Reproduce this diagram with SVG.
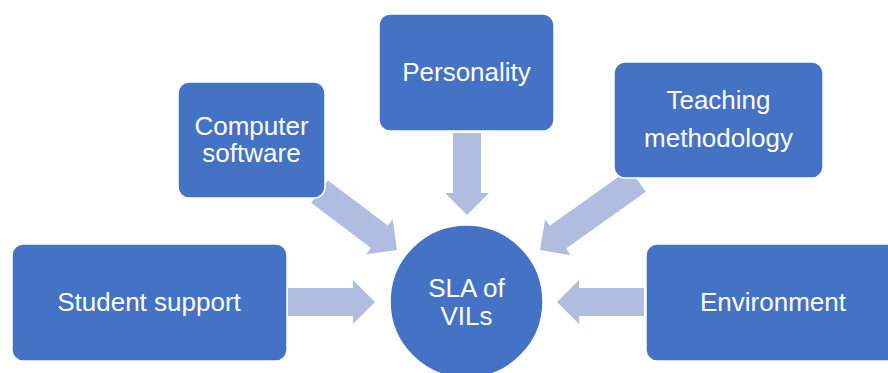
<svg xmlns="http://www.w3.org/2000/svg" width="888" height="373" viewBox="0 0 888 373">
<style>
.node{fill:#4472C4;stroke:#FFFFFF;stroke-width:1.5}
.arr{fill:#B0BDE0}
.t{font-family:"Liberation Sans",Arial,sans-serif;font-size:26px;fill:#FFFFFF;text-anchor:middle}
</style>
<rect width="888" height="373" fill="#FFFFFF"/>
<g id="connectors">
<path class="arr" transform="translate(375,302)" d="M-87,-14 H-22 V-22 L0,0 L-22,22 V14 H-87 Z"/>
<path class="arr" transform="translate(557,302) rotate(180)" d="M-87,-14 H-22 V-22 L0,0 L-22,22 V14 H-87 Z"/>
<path class="arr" transform="translate(467,215) rotate(90)" d="M-82,-14 H-22 V-22 L0,0 L-22,22 V14 H-82 Z"/>
<path class="arr" transform="translate(397,250) rotate(37)" d="M-97,-14 H-22 V-22 L0,0 L-22,22 V14 H-97 Z"/>
<path class="arr" transform="translate(540,250) rotate(144.5)" d="M-120,-14 H-22 V-22 L0,0 L-22,22 V14 H-120 Z"/>
</g>
<g id="computer-software">
<rect class="node" x="178" y="82" width="147" height="116" rx="11"/>
<text class="t" x="251.5" y="135">Computer</text>
<text class="t" x="251.5" y="162">software</text>
</g>
<g id="personality">
<rect class="node" x="379" y="14" width="175" height="117" rx="11"/>
<text class="t" x="466.5" y="81">Personality</text>
</g>
<g id="teaching-methodology">
<rect class="node" x="614" y="62" width="209" height="116" rx="11"/>
<text class="t" x="718.5" y="109">Teaching</text>
<text class="t" x="718.5" y="147">methodology</text>
</g>
<g id="student-support">
<rect class="node" x="12" y="244" width="275" height="117" rx="11"/>
<text class="t" x="149" y="311">Student support</text>
</g>
<g id="environment">
<rect class="node" x="646" y="244" width="254" height="117" rx="11"/>
<text class="t" x="773" y="311">Environment</text>
</g>
<g id="sla-of-vils">
<circle class="node" cx="466.5" cy="301.5" r="76.5"/>
<text class="t" x="466.5" y="297">SLA of</text>
<text class="t" x="466.5" y="325">VILs</text>
</g>
</svg>
